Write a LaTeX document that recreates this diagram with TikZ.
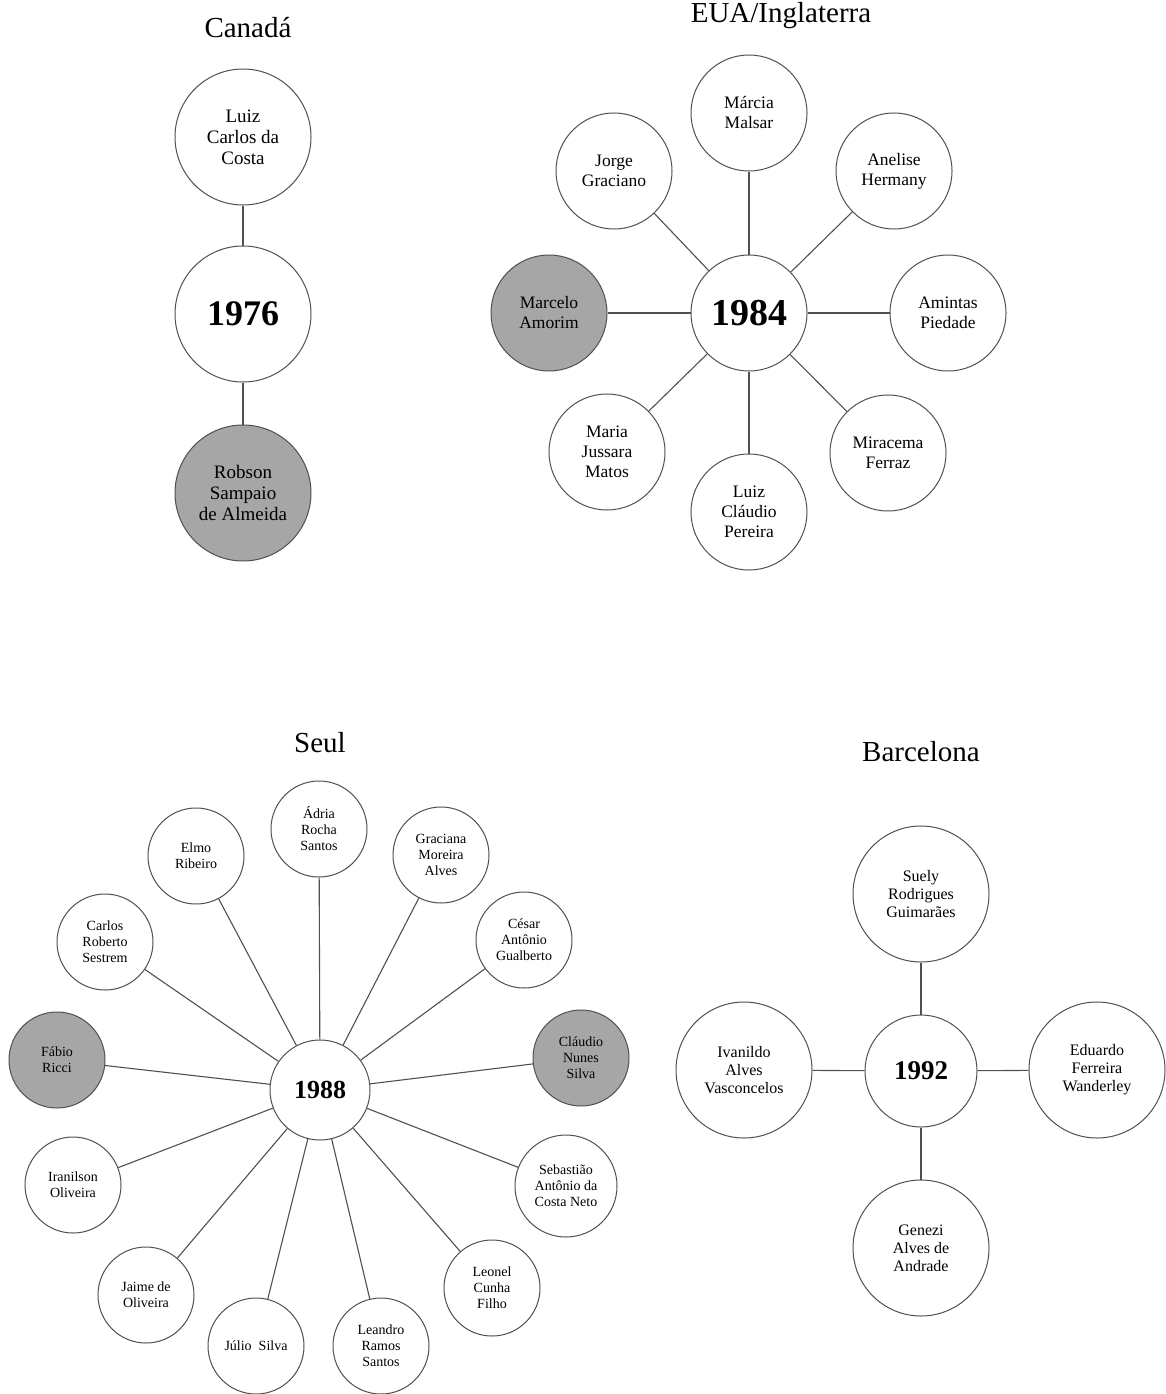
\documentclass[tikz,border=0pt]{standalone}
\usepackage{fontspec}
\setmainfont{Liberation Serif}
\definecolor{nodegray}{RGB}{166,166,166}
\definecolor{edgecol}{RGB}{80,80,80}
\tikzset{
  person/.style={circle, draw=edgecol, line width=1pt, fill=white, inner sep=0pt, align=center},
  canp/.style={person, minimum size=136pt, font=\fontsize{19}{21}\selectfont},
  euap/.style={person, minimum size=116pt, font=\fontsize{17.5}{20}\selectfont},
  seulp/.style={person, minimum size=96pt, font=\fontsize{14}{16}\selectfont},
  barcp/.style={person, minimum size=136pt, font=\fontsize{16}{18}\selectfont},
  shaded/.style={fill=nodegray},
  hub/.style={person, font=\bfseries\fontsize{#1}{#1}\selectfont},
  title/.style={font=\fontsize{29}{32}\selectfont, inner sep=0pt},
  link/.style={draw=edgecol, line width=1.1pt}
}
\begin{document}
\begin{tikzpicture}[x=1pt,y=-1pt]
\useasboundingbox (0,0) rectangle (1165,1394);
% ---------------- Canada
\node[title] (tcan) at (248,28) {Canadá};
\node[canp] (luiz) at (243,137) {Luiz\\Carlos da\\Costa};
\node[hub=36, minimum size=136pt] (c76) at (243,314) {1976};
\node[canp, shaded] (robson) at (243,493) {Robson\\Sampaio\\de Almeida};
\draw[link] (c76) -- (luiz);
\draw[link] (c76) -- (robson);
% ---------------- EUA/Inglaterra
\node[title] (teua) at (781,16) {EUA/Inglaterra};
\node[hub=38, minimum size=116pt] (c84) at (749,313) {1984};
\node[euap] (marcia) at (749,113) {Márcia\\Malsar};
\node[euap] (jorge) at (614,171) {Jorge\\Graciano};
\node[euap] (anelise) at (894,171) {Anelise\\Hermany};
\node[euap, shaded] (marcelo) at (549,313) {Marcelo\\Amorim};
\node[euap] (amintas) at (948,313) {Amintas\\Piedade};
\node[euap] (mjm) at (607,452) {Maria\\Jussara\\Matos};
\node[euap] (lcp) at (749,512) {Luiz\\Cláudio\\Pereira};
\node[euap] (mira) at (888,453) {Miracema\\Ferraz};
\foreach \n in {marcia,jorge,anelise,marcelo,amintas,mjm,lcp,mira}
  \draw[link] (c84) -- (\n);
% ---------------- Seul
\node[title] (tseul) at (320,743) {Seul};
\node[hub=26, minimum size=100pt] (c88) at (320,1090) {1988};
\node[seulp] (adria) at (319,829) {Ádria\\Rocha\\Santos};
\node[seulp] (elmo) at (196,856) {Elmo\\Ribeiro};
\node[seulp] (graciana) at (441,855) {Graciana\\Moreira\\Alves};
\node[seulp] (carlos) at (105,942) {Carlos\\Roberto\\Sestrem};
\node[seulp] (cesar) at (524,940) {César\\Antônio\\Gualberto};
\node[seulp, shaded] (fabio) at (57,1060) {Fábio\\Ricci};
\node[seulp, shaded] (claudio) at (581,1058) {Cláudio\\Nunes\\Silva};
\node[seulp] (iranilson) at (73,1185) {Iranilson\\Oliveira};
\node[seulp, minimum size=102pt] (sebastiao) at (566,1186) {Sebastião\\Antônio da\\Costa Neto};
\node[seulp] (jaime) at (146,1295) {Jaime de\\Oliveira};
\node[seulp] (leonel) at (492,1288) {Leonel\\Cunha\\Filho};
\node[seulp] (julio) at (256,1346) {Júlio~~Silva};
\node[seulp] (leandro) at (381,1346) {Leandro\\Ramos\\Santos};
\foreach \n in {adria,elmo,graciana,carlos,cesar,fabio,claudio,iranilson,sebastiao,jaime,leonel,julio,leandro}
  \draw[link] (c88) -- (\n);
% ---------------- Barcelona
\node[title] (tbarc) at (921,752) {Barcelona};
\node[hub=27, minimum size=112pt] (c92) at (921,1071) {1992};
\node[barcp] (suely) at (921,894) {Suely\\Rodrigues\\Guimarães};
\node[barcp] (ivanildo) at (744,1070) {Ivanildo\\Alves\\Vasconcelos};
\node[barcp] (eduardo) at (1097,1070) {Eduardo\\Ferreira\\Wanderley};
\node[barcp] (genezi) at (921,1248) {Genezi\\Alves de\\Andrade};
\foreach \n in {suely,ivanildo,eduardo,genezi}
  \draw[link] (c92) -- (\n);
\end{tikzpicture}
\end{document}
